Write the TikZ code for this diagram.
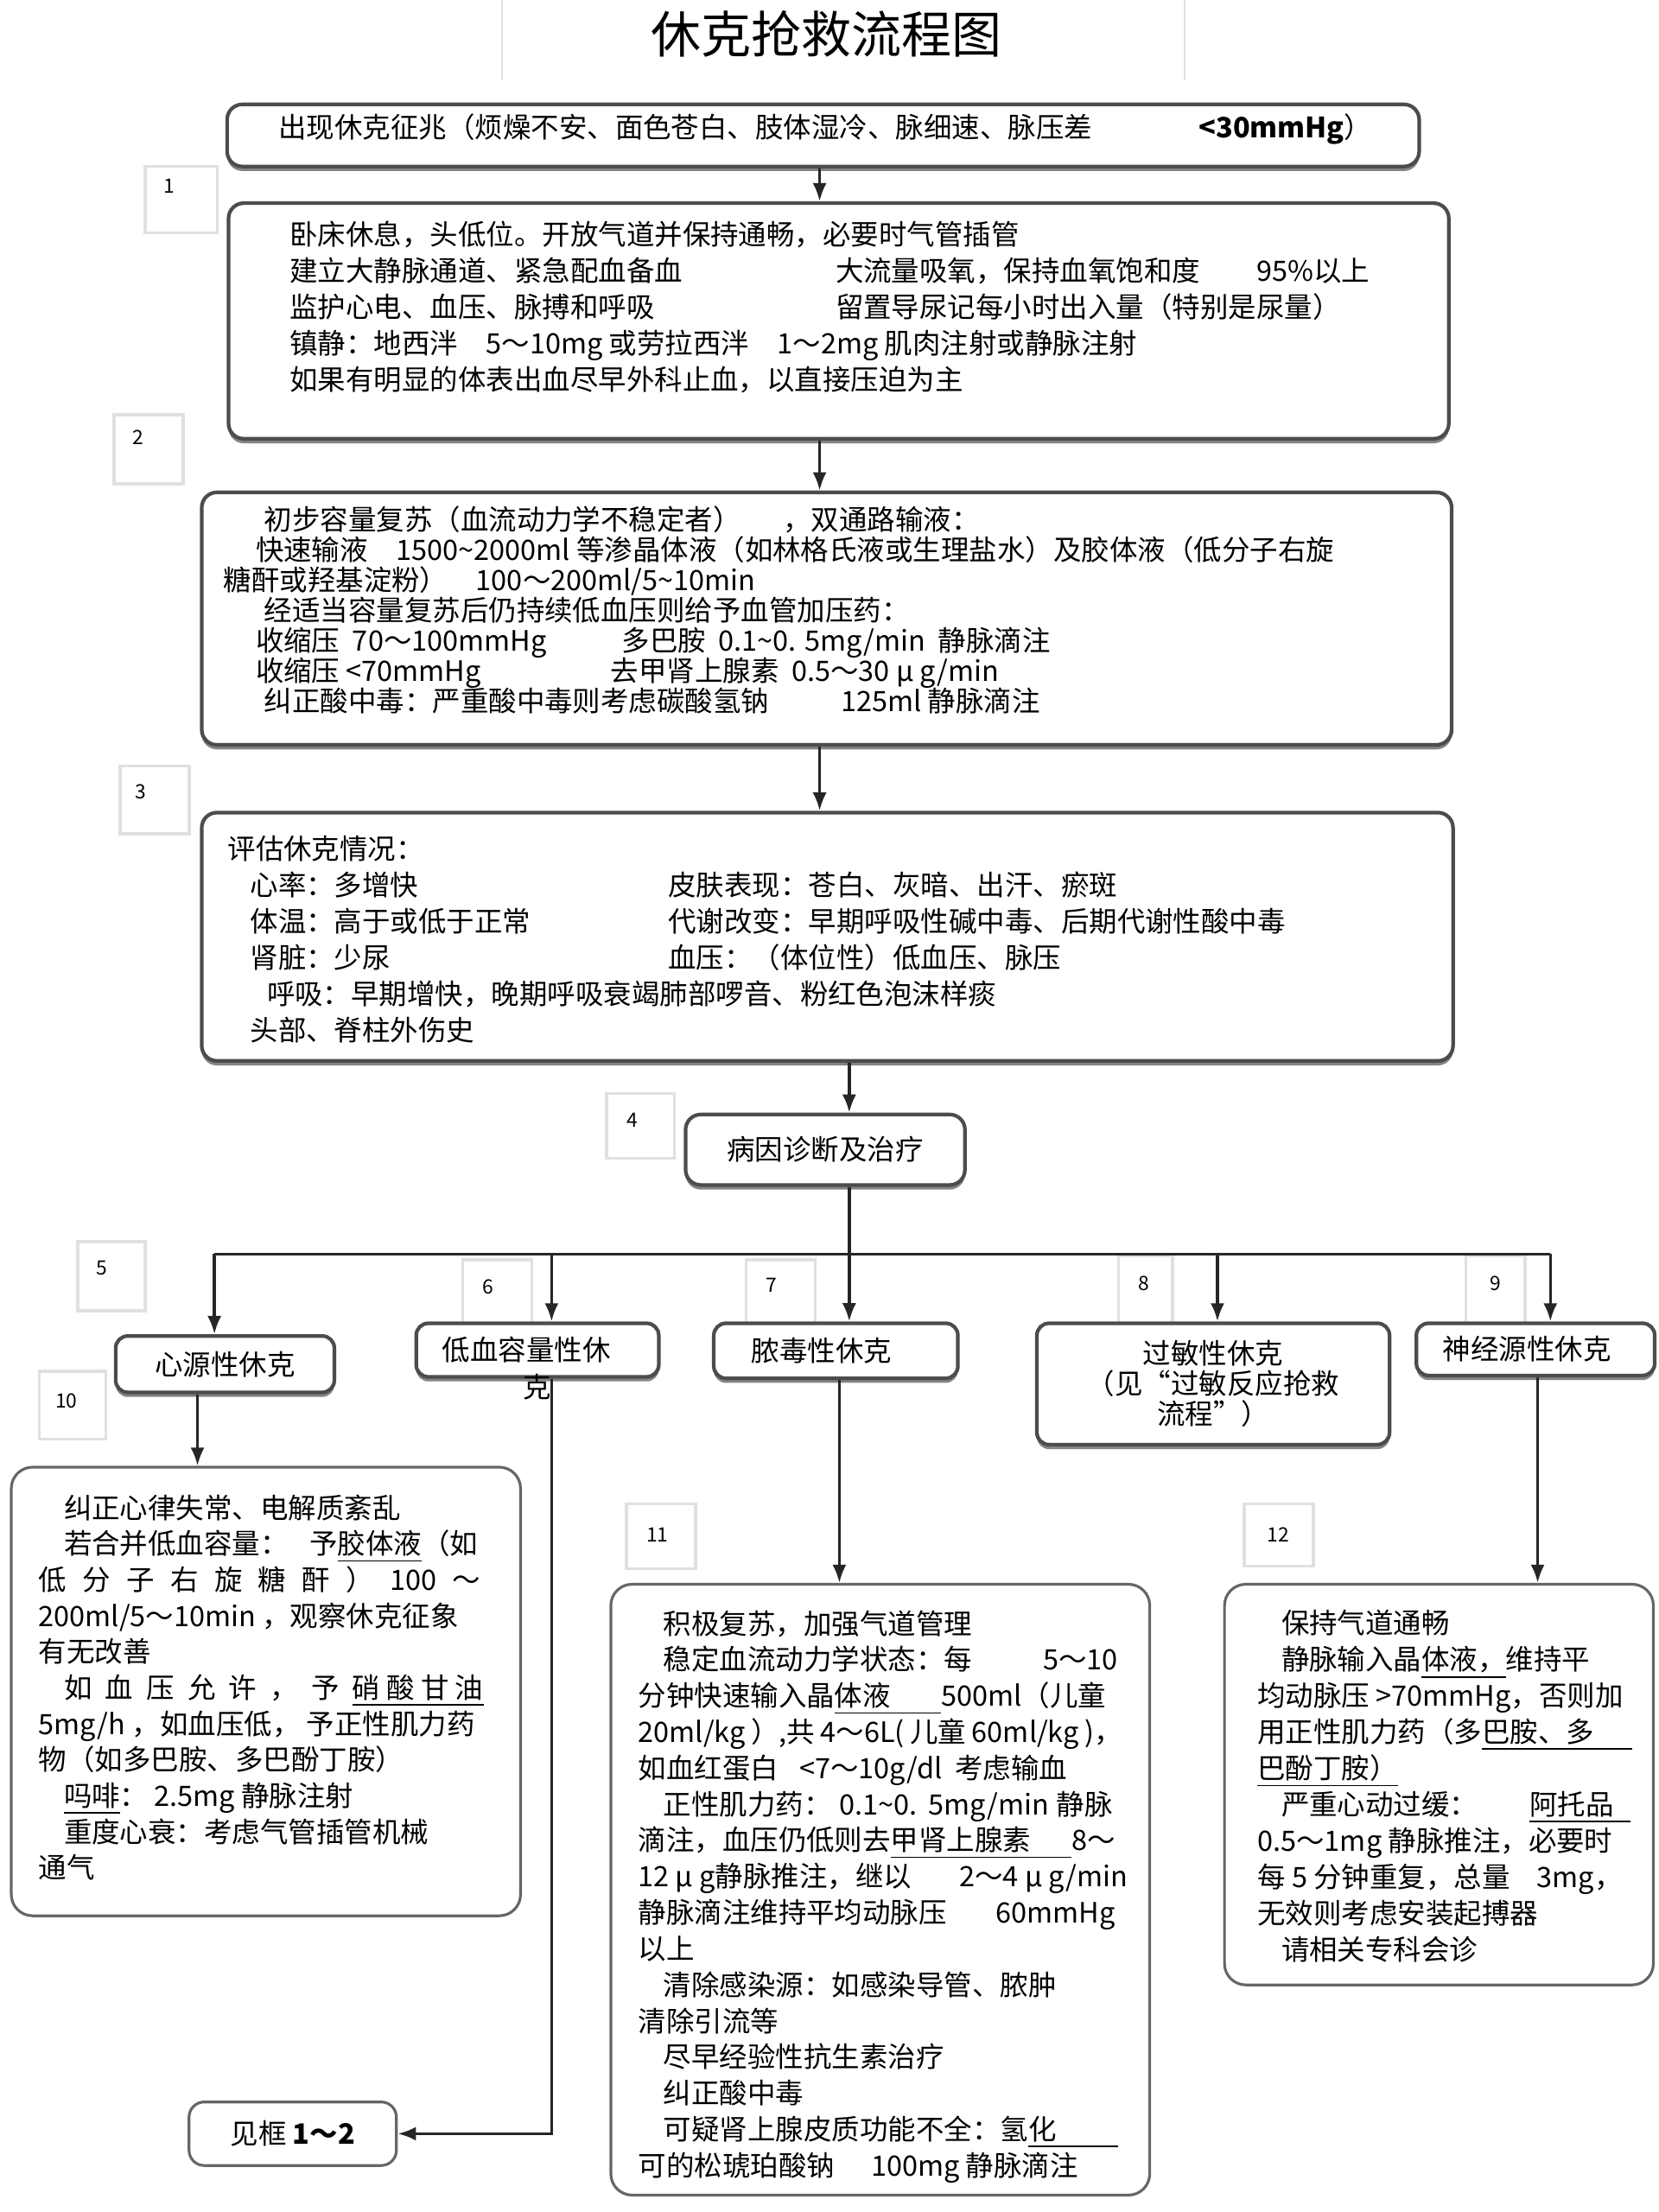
\documentclass[tikz,border=0pt]{standalone}
\usepackage{fontspec}
\setmainfont{Noto Sans CJK SC}
\usetikzlibrary{arrows.meta,fit,shadows}

\newcommand{\boxfont}{\fontsize{9.24pt}{11.94pt}\selectfont}
\newcommand{\tightfont}{\fontsize{9.24pt}{9.96pt}\selectfont\lineskiplimit-20pt\relax}

\tikzset{
  stepbox/.style={draw=black!70, line width=1.2pt, rounded corners=5pt, fill=white, inner sep=0pt,
    drop shadow={shadow xshift=0pt, shadow yshift=-1.5pt, fill=black!60, opacity=0.8}},
  kindbox/.style={stepbox, rounded corners=4pt, font=\boxfont, align=center},
  notebox/.style={draw=black!60, line width=0.9pt, rounded corners=7pt, fill=white, inner sep=0pt},
  tagbox/.style={draw=black!12, line width=1pt, inner sep=0pt},
  tagnum/.style={font=\fontsize{6.5pt}{7pt}\selectfont, inner sep=0pt},
  txt/.style={anchor=base west, align=left, inner sep=0pt, font=\boxfont},
  wire/.style={line width=1pt, draw=black!85},
  arr/.style={wire, -{Latex[length=6pt, width=4.6pt]}},
}

\begin{document}
\begin{tikzpicture}[x=0.016327cm, y=-0.016327cm]
\useasboundingbox (0,0) rectangle (1176,1568);
\fill[white] (0,0) rectangle (1176,1568);

% title
\draw[black!12, line width=0.6pt] (356,0) -- (356,57);
\draw[black!12, line width=0.6pt] (840,0) -- (840,57);
\node[font=\fontsize{16.5pt}{18pt}\selectfont] (title) at (586,24) {休克抢救流程图};

% number tags
\node[tagbox, fit={(103,118) (154,165)}] (g1) {};
\node[tagnum] (g1n) at (120,132) {1};
\node[tagbox, fit={(81,294) (130,343)}] (g2) {};
\node[tagnum] (g2n) at (98,310) {2};
\node[tagbox, fit={(85,543) (134,591)}] (g3) {};
\node[tagnum] (g3n) at (100,561) {3};
\node[tagbox, fit={(430,775) (478,821)}] (g4) {};
\node[tagnum] (g4n) at (448,794) {4};
\node[tagbox, fit={(55,880) (103,929)}] (g5) {};
\node[tagnum] (g5n) at (72,899) {5};
\node[tagbox, fit={(328,893) (377,938)}] (g6) {};
\node[tagnum] (g6n) at (346,912) {6};
\node[tagbox, fit={(529,893) (578,938)}] (g7) {};
\node[tagnum] (g7n) at (547,911) {7};
\node[tagbox, fit={(793,890) (831,938)}] (g8) {};
\node[tagnum] (g8n) at (811,910) {8};
\node[tagbox, fit={(1039,890) (1081,938)}] (g9) {};
\node[tagnum] (g9n) at (1060,910) {9};
\node[tagbox, fit={(28,972) (75,1020)}] (g10) {};
\node[tagnum] (g10n) at (47,993) {10};
\node[tagbox, fit={(444,1066) (493,1112)}] (g11) {};
\node[tagnum] (g11n) at (466,1088) {11};
\node[tagbox, fit={(882,1066) (931,1110)}] (g12) {};
\node[tagnum] (g12n) at (906,1088) {12};

% main steps (text nodes sit on the baseline of their last line)
\node[stepbox, fit={(161,74) (1006,118)}] (bA) {};
\node[txt] (tA) at (197,97.5) {出现休克征兆（烦燥不安、面色苍白、肢体湿冷、脉细速、脉压差\hspace{3.8em}\textbf{<30mmHg}）};

\node[stepbox, fit={(162,144) (1027,311)}] (bB) {};
\node[txt] (tB) at (205,276.5) {卧床休息，头低位。开放气道并保持通畅，必要时气管插管\\
\makebox[19.45em][l]{建立大静脉通道、紧急配血备血}大流量吸氧，保持血氧饱和度\hspace{2em}95\%以上\\
\makebox[19.45em][l]{监护心电、血压、脉搏和呼吸}留置导尿记每小时出入量（特别是尿量）\\
镇静：地西泮\quad 5～10mg 或劳拉西泮\quad 1～2mg 肌肉注射或静脉注射\\
如果有明显的体表出血尽早外科止血，以直接压迫为主};

\node[stepbox, fit={(143,349) (1029,528)}] (bC) {};
\node[txt, font=\tightfont] (tC) at (158,504.5) {\hspace*{1.45em}初步容量复苏（血流动力学不稳定者）\hspace{1.5em}，双通路输液：\\
\hspace*{1.15em}快速输液\quad 1500\textasciitilde 2000ml 等渗晶体液（如林格氏液或生理盐水）及胶体液（低分子右旋\\
糖酐或羟基淀粉）\quad 100～200ml/5\textasciitilde 10min\\
\hspace*{1.45em}经适当容量复苏后仍持续低血压则给予血管加压药：\\
\hspace*{1.15em}\makebox[13.05em][l]{收缩压\ \ 70～100mmHg}多巴胺\ \ 0.1\textasciitilde 0. 5mg/min\ \ 静脉滴注\\
\hspace*{1.15em}\makebox[12.65em][l]{收缩压 <70mmHg}去甲肾上腺素\ \ 0.5～30 μ g/min\\
\hspace*{1.45em}\makebox[20.55em][l]{纠正酸中毒：严重酸中毒则考虑碳酸氢钠}125ml 静脉滴注};

\node[stepbox, fit={(143,576) (1030,752)}] (bD) {};
\node[txt, font=\fontsize{9.24pt}{11.95pt}\selectfont] (tD) at (161,737.5) {评估休克情况：\\
\hspace*{0.8em}\makebox[14.9em][l]{心率：多增快}皮肤表现：苍白、灰暗、出汗、瘀斑\\
\hspace*{0.8em}\makebox[14.9em][l]{体温：高于或低于正常}代谢改变：早期呼吸性碱中毒、后期代谢性酸中毒\\
\hspace*{0.8em}\makebox[14.9em][l]{肾脏：少尿}血压：（体位性）低血压、脉压\\
\hspace*{1.4em}呼吸：早期增快，晚期呼吸衰竭肺部啰音、粉红色泡沫样痰\\
\hspace*{0.8em}头部、脊柱外伤史};

\node[stepbox, font=\boxfont, minimum width=3.233cm, minimum height=0.816cm] (bE) at (585,815) {病因诊断及治疗\hspace{1em}};

% kinds of shock
\node[kindbox, minimum width=2.531cm, minimum height=0.653cm] (kCar) at (159.5,967) {心源性休克};
\node[kindbox, minimum width=2.808cm, minimum height=0.620cm] (kHyp) at (381,957) {低血容量性休\hspace{0.8em}};
\node[font=\boxfont, inner sep=0pt] (kHypK) at (381,983) {克};
\node[kindbox, minimum width=2.825cm, minimum height=0.637cm] (kSep) at (592.5,957.5) {脓毒性休克\hspace{1em}};
\node[kindbox, font=\fontsize{9.24pt}{10pt}\selectfont, minimum width=4.082cm, minimum height=1.404cm] (kAll) at (860,981) {过敏性休克\\（见“过敏反应抢救\\流程”）};
\node[kindbox, minimum width=2.759cm, minimum height=0.604cm] (kNeu) at (1088.5,956.5) {神经源性休克\hspace{0.6em}};

% treatments
\node[notebox, fit={(8,1040) (369,1358)}] (bF) {};
\node[txt, font=\fontsize{9.24pt}{11.86pt}\selectfont] (tF) at (27,1331.5) {\hspace*{0.9em}纠正心律失常、电解质紊乱\\
\hspace*{0.9em}若合并低血容量：\hspace{0.75em}予\underline{胶体液}（如\\
\makebox[15.75em][s]{低 分 子 右 旋 糖 酐 ） 100 ～}\\
200ml/5～10min ，观察休克征象\\
有无改善\\
\hspace*{0.9em}\makebox[14.95em][s]{如 血 压 允 许 ， 予 \underline{硝\ 酸\ 甘\ 油}}\\
5mg/h ，如血压低， 予正性肌力药\\
物（如多巴胺、多巴酚丁胺）\\
\hspace*{0.9em}\underline{吗啡}： 2.5mg 静脉注射\\
\hspace*{0.9em}重度心衰：考虑气管插管机械\\
通气};

\node[notebox, fit={(433,1123) (815,1556)}] (bG) {};
\node[txt, font=\fontsize{9.24pt}{11.9pt}\selectfont] (tG) at (452,1542.5) {\hspace*{0.9em}积极复苏，加强气道管理\\
\hspace*{0.9em}\makebox[16.2em][l]{稳定血流动力学状态：每\hfill 5～10}\\
分钟快速输入晶\underline{体液\hspace{1.8em}}500ml（儿童\\
\makebox[17.25em][s]{20ml/kg ）,共 4～6L( 儿童 60ml/kg )，}\\
如血红蛋白\hspace{0.75em}<7～10g/dl\ \ 考虑输血\\
\hspace*{0.9em}\makebox[16em][s]{正性肌力药： 0.1\textasciitilde 0. 5mg/min 静脉}\\
\makebox[16.9em][l]{滴注，血压仍低则去\underline{甲肾上腺素\hspace{1.45em}}\hfill 8～}\\
\makebox[17.45em][l]{12 μ g静脉推注，继以\hfill 2～4 μ g/min}\\
\makebox[17em][l]{静脉滴注维持平均动脉压\hfill 60mmHg}\\
以上\\
\hspace*{0.9em}清除感染源：如感染导管、脓肿\\
清除引流等\\
\hspace*{0.9em}尽早经验性抗生素治疗\\
\hspace*{0.9em}纠正酸中毒\\
\hspace*{0.9em}可疑肾上腺皮质功能不全：氢\underline{化\hspace{2.2em}}\\
可的松琥珀酸钠\hspace{1.3em}100mg 静脉滴注};

\node[notebox, fit={(868,1123) (1172,1407)}] (bH) {};
\node[txt, font=\fontsize{9.24pt}{11.95pt}\selectfont] (tH) at (891,1389.5) {\hspace*{0.85em}保持气道通畅\\
\hspace*{0.85em}静脉输入晶\underline{体液，}维持平\\
均动脉压 >70mmHg，否则加\\
用正性肌力药（多\underline{巴胺、多\hspace{1.35em}}\\
\underline{巴酚丁胺）}\\
\hspace*{0.85em}\makebox[12.45em][l]{严重心动过缓：\hfill\underline{阿托品\hspace{0.6em}}}\\
0.5～1mg 静脉推注，必要时\\
\makebox[13em][l]{每 5 分钟重复，总量\hfill 3mg，}\\
无效则考虑安装起搏器\\
\hspace*{0.85em}请相关专科会诊};

\node[notebox, rounded corners=5pt, font=\boxfont, minimum width=2.4cm, minimum height=0.735cm] (bSee) at (207.5,1512.5) {见框 \textbf{1～2}\hspace{1em}};

% connectors
\coordinate (sp1) at (581,0);
\coordinate (sp2) at (602,0);
\coordinate (j1) at (152,889);
\coordinate (j2) at (391,889);
\coordinate (j3) at (602,889);
\coordinate (j4) at (863,889);
\coordinate (j5) at (1099,889);
\coordinate (d1) at (140,0);
\coordinate (d3) at (595,0);
\coordinate (d5) at (1090,0);

\draw[arr] (bA.south -| sp1) -- (bB.north -| sp1);
\draw[arr] (bB.south -| sp1) -- (bC.north -| sp1);
\draw[arr] (bC.south -| sp1) -- (bD.north -| sp1);
\draw[arr] (bD.south -| sp2) -- (bE.north -| sp2);
\draw[wire] (bE.south -| sp2) -- (j3);
\draw[wire] (j1) -- (j5);
\draw[arr] (j1) -- (j1 |- kCar.north);
\draw[arr] (j2) -- (j2 |- kHyp.north);
\draw[arr] (j3) -- (j3 |- kSep.north);
\draw[arr] (j4) -- (j4 |- kAll.north);
\draw[arr] (j5) -- (j5 |- kNeu.north);
\draw[arr] (kCar.south -| d1) -- (bF.north -| d1);
\draw[arr] (kSep.south -| d3) -- (bG.north -| d3);
\draw[arr] (kNeu.south -| d5) -- (bH.north -| d5);
\draw[arr] (kHyp.south -| j2) |- (bSee.east);

\end{tikzpicture}
\end{document}
